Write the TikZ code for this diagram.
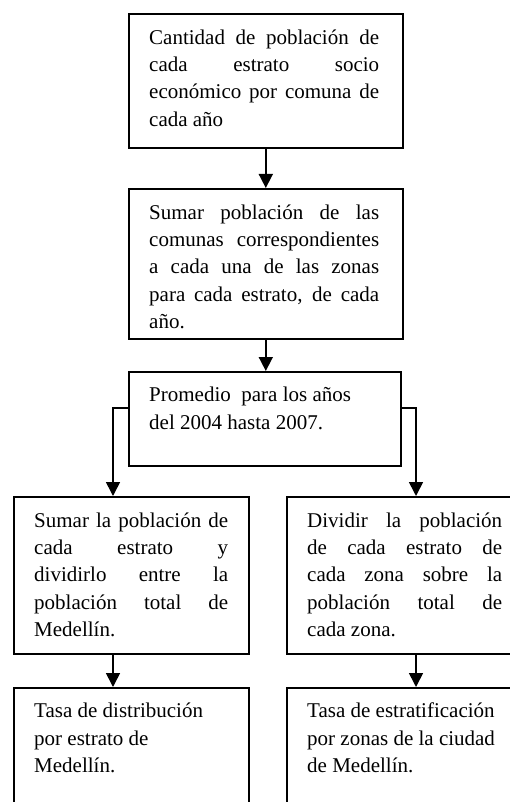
\documentclass[tikz,border=0pt]{standalone}
\usepackage{fontspec}
\setmainfont{Liberation Serif}
\usetikzlibrary{arrows.meta}
\newcommand{\jl}[2]{\makebox[#1][s]{#2}}
\begin{document}
\begin{tikzpicture}[x=1pt,y=-1pt,
  box/.style={draw, line width=1.6pt, inner sep=0pt, anchor=north west},
  txt/.style={anchor=base west, inner sep=0pt, align=left, font={\fontsize{21}{27.4}\selectfont}},
  arr/.style={line width=1.6pt, -{Triangle[width=14pt,length=14pt]}}]
\useasboundingbox (0,0) rectangle (510,802);
\fill[white] (0,0) rectangle (510,802);
% boxes
\node[box, minimum width=274pt, minimum height=134pt] (b1) at (128,13) {};
\node[box, minimum width=274pt, minimum height=150pt] (b2) at (128,188) {};
\node[box, minimum width=272pt, minimum height=94pt] (b3) at (128,371) {};
\node[box, minimum width=235pt, minimum height=157pt] (b4) at (13,496) {};
\node[box, minimum width=240pt, minimum height=157pt] (b5) at (286,496) {};
\node[box, minimum width=235pt, minimum height=130pt] (b6) at (13,687) {};
\node[box, minimum width=240pt, minimum height=130pt] (b7) at (286,687) {};
% texts (anchored at the baseline of their last line)
\node[txt] (t1) at (149,126.4) {\jl{230pt}{Cantidad de población de}\\\jl{230pt}{cada estrato socio}\\\jl{230pt}{económico por comuna de}\\cada año};
\begin{scope}
\clip (128,188) rectangle (402,330);
\node[txt] (t2) at (149,328.6) {\jl{230pt}{Sumar población de las}\\\jl{230pt}{comunas correspondientes}\\\jl{230pt}{a cada una de las zonas}\\\jl{230pt}{para cada estrato, de cada}\\año.};
\end{scope}
\node[txt] (t3) at (149,429) {Promedio\ \ para los años\\del 2004 hasta 2007.};
\node[txt] (t4) at (34,636.6) {\jl{194pt}{Sumar la población de}\\\jl{194pt}{cada estrato y}\\\jl{194pt}{dividirlo entre la}\\\jl{194pt}{población total de}\\Medellín.};
\node[txt] (t5) at (307,636.6) {\jl{195pt}{Dividir la población}\\\jl{195pt}{de cada estrato de}\\\jl{195pt}{cada zona sobre la}\\\jl{195pt}{población total de}\\cada zona.};
\node[txt] (t6) at (34,772.5) {Tasa de distribución\\por estrato de\\Medellín.};
\node[txt] (t7) at (307,772.5) {Tasa de estratificación\\por zonas de la ciudad\\de Medellín.};
% connectors
\coordinate (sl) at (128,408);
\coordinate (sr) at (400,408);
\coordinate (el) at (113,496);
\coordinate (er) at (416,496);
\draw[arr] (b1.south) -- (b1.south |- b2.north);
\draw[arr] (b2.south) -- (b2.south |- b3.north);
\draw[arr] (sl) -| (el);
\draw[arr] (sr) -| (er);
\draw[arr] (el |- b4.south) -- (el |- b6.north);
\draw[arr] (er |- b5.south) -- (er |- b7.north);
\end{tikzpicture}
\end{document}
